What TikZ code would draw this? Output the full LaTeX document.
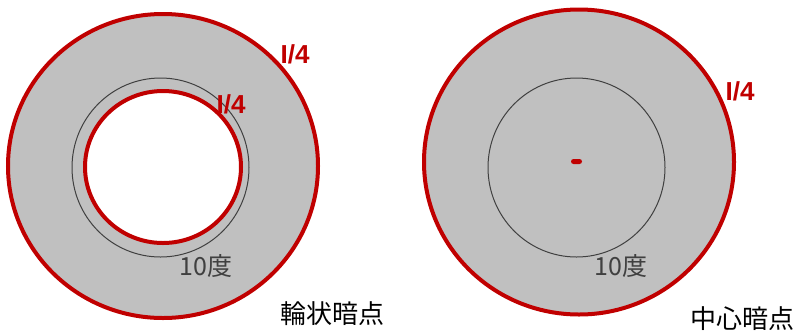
\documentclass[tikz,border=0pt]{standalone}
\usepackage{fontspec}
\setmainfont{Liberation Sans}
\newfontfamily\jpfont{Noto Sans CJK JP}
\usetikzlibrary{shapes.geometric}
\definecolor{dred}{HTML}{C00000}
\definecolor{lgray}{HTML}{C0C0C0}
\definecolor{dgray}{HTML}{404040}
\begin{document}
\begin{tikzpicture}[x=1pt,y=-1pt,
  redring/.style={draw=dred,line width=4pt},
  thinring/.style={draw=dgray,line width=1pt},
  ilabel/.style={text=dred,font=\fontsize{26}{26}\selectfont\bfseries,inner sep=0pt},
  deg/.style={text=dgray,font=\fontsize{25}{25}\selectfont\jpfont,inner sep=0pt},
  title/.style={text=black,font=\fontsize{26}{26}\selectfont\jpfont,inner sep=0pt}]
\useasboundingbox (0,0) rectangle (800,333);
% left: ring scotoma
\draw[redring,fill=lgray] (163,166) ellipse [x radius=155,y radius=152];
\draw[thinring] (160.5,167.5) ellipse [x radius=88.5,y radius=89.5];
\draw[redring,fill=white] (163,167) ellipse [x radius=78,y radius=76];
\node[ilabel] (lo) at (295,54) {I/4};
\node[ilabel] (li) at (231,104) {I/4};
\node[deg] (ld) at (206,266) {10度};
\node[title] (lt) at (332,314) {輪状暗点};
% right: central scotoma
\draw[redring,fill=lgray] (579,162) ellipse [x radius=155,y radius=152.5];
\draw[thinring] (576.5,167.5) ellipse [x radius=88.5,y radius=89.5];
\fill[dred,rounded corners=2.5pt] (571,159) rectangle (582,164);
\node[ilabel] (ro) at (740,91) {I/4};
\node[deg] (rd) at (621,266) {10度};
\node[title] (rt) at (742,319) {中心暗点};
\end{tikzpicture}
\end{document}
